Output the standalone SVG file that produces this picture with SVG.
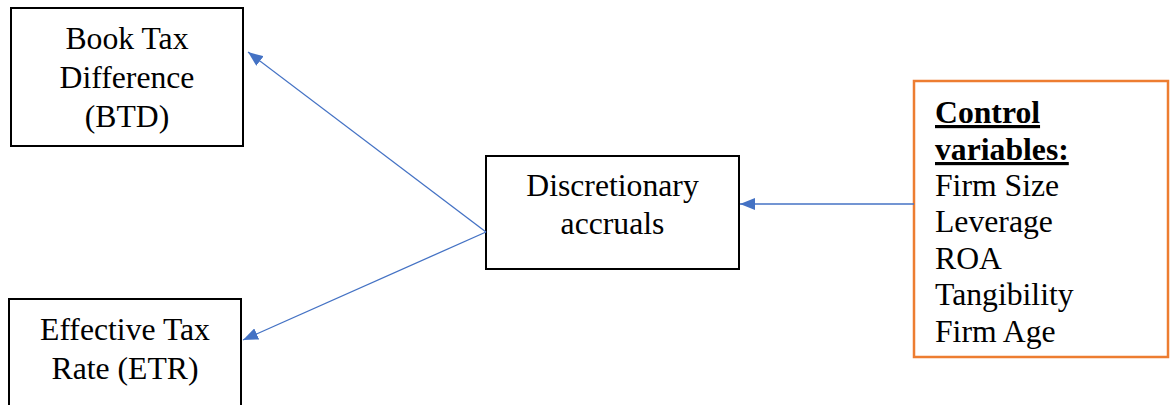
<svg xmlns="http://www.w3.org/2000/svg" width="1170" height="405" viewBox="0 0 1170 405">
<style>
.box{fill:#fff;stroke:#000;stroke-width:2}
.obox{fill:#fff;stroke:#ED7D31;stroke-width:2.5}
.t{font-family:"Liberation Serif","Times New Roman",serif;font-size:31.7px;fill:#000}
.c{text-anchor:middle}
.b{font-weight:bold;text-decoration:underline}
.conn{stroke:#4472C4;stroke-width:1.3;fill:none}
</style>
<defs>
<marker id="ah" viewBox="0 0 15 12" refX="15" refY="6" markerWidth="15" markerHeight="12" markerUnits="userSpaceOnUse" orient="auto">
<path d="M0,0 L15,6 L0,12 z" fill="#4472C4"/>
</marker>
</defs>
<g id="btd">
<rect class="box" x="11" y="8" width="232" height="138"/>
<text class="t c" x="127" y="49">Book Tax</text>
<text class="t c" x="127" y="88">Difference</text>
<text class="t c" x="127" y="127">(BTD)</text>
</g>
<g id="etr">
<rect class="box" x="9" y="299" width="232" height="120"/>
<text class="t c" x="125" y="340">Effective Tax</text>
<text class="t c" x="125" y="379">Rate (ETR)</text>
</g>
<g id="da">
<rect class="box" x="486" y="156" width="253" height="113"/>
<text class="t c" x="612.5" y="196">Discretionary</text>
<text class="t c" x="612.5" y="234">accruals</text>
</g>
<g id="control">
<rect class="obox" x="914" y="81" width="254" height="276"/>
<text class="t b" x="935" y="123">Control</text>
<text class="t b" x="935" y="160">variables:</text>
<text class="t" x="935" y="196">Firm Size</text>
<text class="t" x="935" y="232">Leverage</text>
<text class="t" x="935" y="269">ROA</text>
<text class="t" x="935" y="305">Tangibility</text>
<text class="t" x="935" y="342">Firm Age</text>
</g>
<g id="connectors">
<line class="conn" x1="486" y1="232" x2="248" y2="52" marker-end="url(#ah)"/>
<line class="conn" x1="486" y1="232" x2="243" y2="340" marker-end="url(#ah)"/>
<line class="conn" x1="914" y1="204" x2="740" y2="204" marker-end="url(#ah)"/>
</g>
</svg>
